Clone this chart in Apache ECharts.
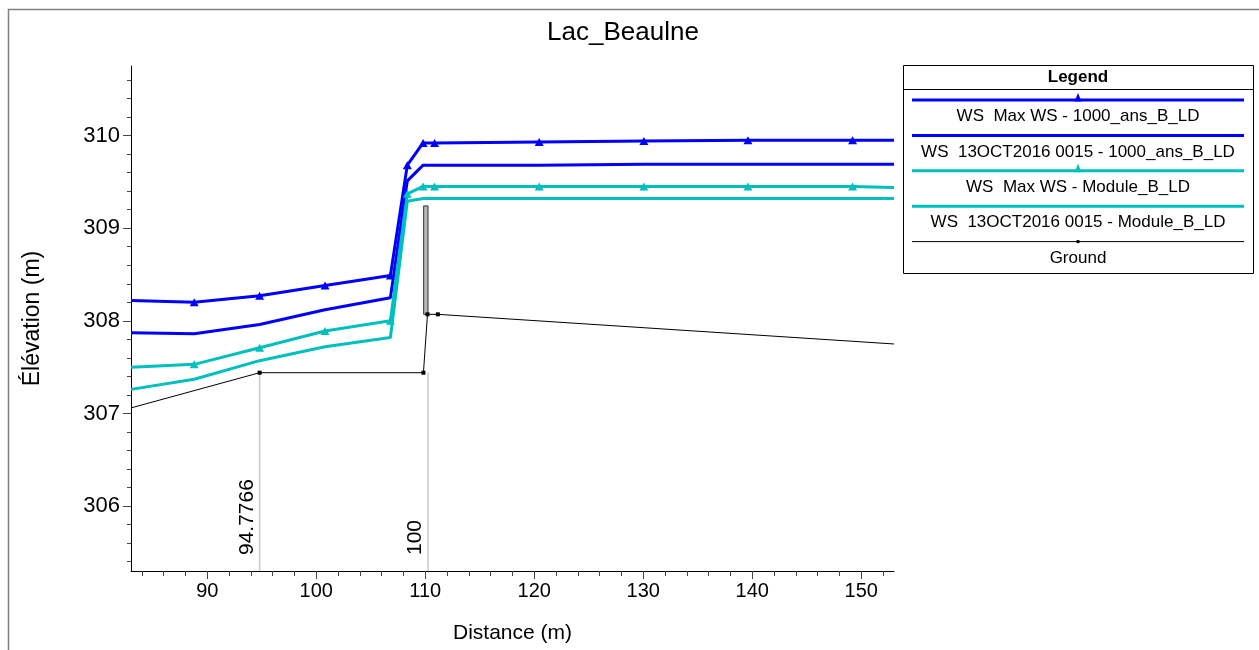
<!DOCTYPE html>
<html>
<head>
<meta charset="utf-8">
<script src="https://cdn.jsdelivr.net/npm/echarts@6/dist/echarts.min.js"></script>
<style>html,body{margin:0;padding:0;background:#fff}#c{width:1259px;height:650px}</style>
</head>
<body>
<div id="c"></div>
<script>
// ---------- data ----------
const chartTitle = 'Lac_Beaulne';
const xAxisName = 'Distance (m)';
const yAxisName = 'Élévation (m)';

const stations = [83, 88.8, 94.8, 100.8, 106.8, 108.35, 109.8, 110.85, 120.45, 130.05, 139.6, 149.2, 153];
const maxWs1000 = [308.22, 308.20, 308.27, 308.38, 308.49, 309.68, 309.92, 309.92, 309.93, 309.94, 309.95, 309.95, 309.95];
const oct1000   = [307.87, 307.86, 307.96, 308.12, 308.25, 309.51, 309.68, 309.68, 309.68, 309.69, 309.69, 309.69, 309.69];
const maxWsMod  = [307.50, 307.53, 307.71, 307.89, 308.00, 309.37, 309.45, 309.45, 309.45, 309.45, 309.45, 309.45, 309.44];
const octMod    = [307.26, 307.37, 307.57, 307.72, 307.82, 309.29, 309.32, 309.32, 309.32, 309.32, 309.32, 309.32, 309.32];
const stationMarked = [0, 1, 1, 1, 1, 1, 1, 1, 1, 1, 1, 1, 0];

const groundX = [83, 94.8, 109.83, 110.2, 111.15, 153];
const groundY = [307.06, 307.44, 307.44, 308.07, 308.07, 307.75];
const groundMarked = [0, 1, 1, 1, 1, 0];

const deckX = [109.85, 110.25];
const deckY = [308.07, 309.24];

const rsX = [94.8, 110.25];
const rsTop = [307.44, 307.44];
const rsLabels = ['94.7766', '100'];

const seriesNames = [
  'WS  Max WS - 1000_ans_B_LD',
  'WS  13OCT2016 0015 - 1000_ans_B_LD',
  'WS  Max WS - Module_B_LD',
  'WS  13OCT2016 0015 - Module_B_LD',
  'Ground'
];

const xRange = [83, 153];
const yRange = [305.3, 310.75];
const xMajor = [90, 100, 110, 120, 130, 140, 150];
const yMajor = [306, 307, 308, 309, 310];

// minor ticks (every 2 m on x, every 0.2 m on y)
const xMinor = [];
for (let v = 84; v <= 152; v += 2) if (v % 10 !== 0) xMinor.push(v);
const yMinor = [];
for (let k = 3054; k <= 3106; k += 2) { if (k % 10 !== 0) yMinor.push(k / 10); }

// ---------- styles ----------
const FONT = '"Liberation Sans", Arial, sans-serif';
const BLUE = '#0000ff';
const CYAN = '#00bfbf';
const seriesColors = [BLUE, BLUE, CYAN, CYAN, '#000000'];
const seriesWidths = [3, 3, 3, 3, 1];
const seriesSymbols = ['triangle', 'none', 'triangle', 'none', 'square'];

function wsSeries(name, values, color, withMarkers) {
  return {
    type: 'line', name: name,
    data: stations.map((x, i) => ({
      value: [x, values[i]],
      symbol: (withMarkers && stationMarked[i]) ? 'triangle' : 'none'
    })),
    symbolSize: [9, 8],
    showSymbol: true,
    lineStyle: { color: color, width: 3 },
    itemStyle: { color: color },
    z: 5
  };
}

const series = [
  // river station lines + labels
  {
    type: 'custom', name: 'rs', silent: true, z: 1,
    data: rsX.map((x, i) => [x, rsTop[i], yRange[0], i]),
    renderItem: function (params, api) {
      const t = api.coord([api.value(0), api.value(1)]);
      const b = api.coord([api.value(0), api.value(2)]);
      return {
        type: 'group',
        children: [
          { type: 'line', shape: { x1: t[0], y1: t[1], x2: b[0], y2: b[1] },
            style: { stroke: '#c8c8c8', lineWidth: 1.5 } },
          { type: 'text', x: b[0] - 2, y: b[1] - 16, rotation: Math.PI / 2,
            style: { text: rsLabels[api.value(3)], font: '21px ' + FONT, fill: '#000',
                     align: 'left', verticalAlign: 'bottom' } }
        ]
      };
    }
  },
  // bridge deck
  {
    type: 'custom', name: 'deck', silent: true, z: 2,
    data: [[deckX[0], deckY[0], deckX[1], deckY[1]]],
    renderItem: function (params, api) {
      const a = api.coord([api.value(0), api.value(1)]);
      const b = api.coord([api.value(2), api.value(3)]);
      return { type: 'rect',
        shape: { x: a[0], y: b[1], width: b[0] - a[0], height: a[1] - b[1] },
        style: { fill: '#b8b8b8', stroke: '#333', lineWidth: 1 } };
    }
  },
  wsSeries(seriesNames[0], maxWs1000, BLUE, true),
  wsSeries(seriesNames[1], oct1000, BLUE, false),
  wsSeries(seriesNames[2], maxWsMod, CYAN, true),
  wsSeries(seriesNames[3], octMod, CYAN, false),
  {
    type: 'line', name: seriesNames[4],
    data: groundX.map((x, i) => ({ value: [x, groundY[i]], symbol: groundMarked[i] ? 'square' : 'none' })),
    symbolSize: 4, showSymbol: true,
    lineStyle: { color: '#000', width: 1 },
    itemStyle: { color: '#000' },
    z: 4
  }
];

// ---------- legend box (graphic) ----------
const LX = 903, LY = 65, LW = 350, LH = 208;
const legendEls = [
  { type: 'rect', shape: { x: LX + 0.5, y: LY + 0.5, width: LW, height: LH },
    style: { fill: '#fff', stroke: '#000', lineWidth: 1 } },
  { type: 'line', shape: { x1: LX, y1: 89.5, x2: LX + LW + 1, y2: 89.5 },
    style: { stroke: '#000', lineWidth: 1 } },
  { type: 'text', x: LX + LW / 2, y: 77,
    style: { text: 'Legend', font: 'bold 17px ' + FONT, fill: '#000', align: 'center', verticalAlign: 'middle' } }
];
seriesNames.forEach((name, i) => {
  const ly = 100 + 35.4 * i;
  const cx = LX + LW / 2;
  legendEls.push({ type: 'line', shape: { x1: 912, y1: ly, x2: 1244, y2: ly },
    style: { stroke: seriesColors[i], lineWidth: seriesWidths[i] } });
  if (seriesSymbols[i] === 'triangle') {
    legendEls.push({ type: 'polygon', shape: { points: [[cx, ly - 7], [cx - 3.5, ly + 1.5], [cx + 3.5, ly + 1.5]] },
      style: { fill: seriesColors[i] } });
  } else if (seriesSymbols[i] === 'square') {
    legendEls.push({ type: 'rect', shape: { x: cx - 1.5, y: ly - 1.5, width: 3, height: 3 },
      style: { fill: '#000' } });
  }
  legendEls.push({ type: 'text', x: cx, y: ly + 16.5,
    style: { text: name, font: '17px ' + FONT, fill: '#000', align: 'center', verticalAlign: 'middle' } });
});

const option = {
  animation: false,
  backgroundColor: '#fff',
  title: {
    text: chartTitle, left: 618, top: 15, textAlign: 'center',
    textStyle: { fontSize: 26, fontWeight: 'normal', fontFamily: FONT, color: '#000' }
  },
  grid: { left: 131, right: 365, top: 66, bottom: 79 },
  xAxis: [
    {
      type: 'value', min: xRange[0], max: xRange[1],
      name: xAxisName, nameLocation: 'middle', nameGap: 52,
      nameTextStyle: { fontSize: 21, fontFamily: FONT, color: '#000' },
      axisLine: { show: true, onZero: false, lineStyle: { color: '#000', width: 1 } },
      axisTick: { show: true, length: 8, customValues: xMajor, lineStyle: { color: '#444' } },
      axisLabel: { customValues: xMajor, fontSize: 20, fontFamily: FONT, color: '#000', margin: 10 },
      splitLine: { show: false }
    },
    {
      type: 'value', min: xRange[0], max: xRange[1], position: 'bottom',
      axisLine: { show: false, onZero: false },
      axisTick: { show: true, length: 5, customValues: xMinor, lineStyle: { color: '#444' } },
      axisLabel: { show: false },
      splitLine: { show: false }
    }
  ],
  yAxis: [
    {
      type: 'value', min: yRange[0], max: yRange[1],
      name: yAxisName, nameLocation: 'middle', nameGap: 87,
      nameTextStyle: { fontSize: 23, fontFamily: FONT, color: '#000' },
      axisLine: { show: true, onZero: false, lineStyle: { color: '#000', width: 1 } },
      axisTick: { show: true, length: 8, customValues: yMajor, lineStyle: { color: '#444' } },
      axisLabel: { customValues: yMajor, fontSize: 22, fontFamily: FONT, color: '#000', margin: 11 },
      splitLine: { show: false }
    },
    {
      type: 'value', min: yRange[0], max: yRange[1], position: 'left',
      axisLine: { show: false, onZero: false },
      axisTick: { show: true, length: 4, customValues: yMinor, lineStyle: { color: '#444' } },
      axisLabel: { show: false },
      splitLine: { show: false }
    }
  ],
  graphic: [
    { type: 'polyline', shape: { points: [[8.5, 660], [8.5, 9.5], [1265, 9.5]] },
      style: { stroke: '#808080', lineWidth: 1.5, fill: null }, silent: true },
    { type: 'group', children: legendEls }
  ],
  series: series
};

const chart = echarts.init(document.getElementById('c'), null, { renderer: 'canvas' });
chart.setOption(option);
</script>
</body>
</html>
